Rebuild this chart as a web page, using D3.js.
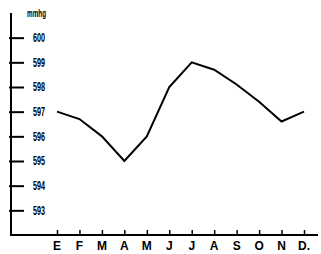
<!DOCTYPE html>
<html>
<head>
<meta charset="utf-8">
<script src="https://cdn.jsdelivr.net/npm/d3@7"></script>
<style>
  body { margin: 0; background: #fff; }
  svg { display: block; }
</style>
</head>
<body>
<svg id="chart" width="321" height="254"></svg>
<script>
const months = ["E", "F", "M", "A", "M", "J", "J", "A", "S", "O", "N", "D."];
const pressure = [597.0, 596.7, 596.0, 595.0, 596.0, 598.0, 599.0, 598.7, 598.1, 597.4, 596.6, 597.0];
const yTicks = [593, 594, 595, 596, 597, 598, 599, 600];

const svg = d3.select("#chart");
const axisX = 11;
const axisY = 235;

const x = d3.scaleLinear().domain([0, 11]).range([57, 304]);
const y = d3.scaleLinear().domain([592, 601]).range([axisY, 13]);

// vertical axis
svg.append("line")
  .attr("x1", axisX).attr("x2", axisX)
  .attr("y1", 13).attr("y2", axisY + 1)
  .attr("stroke", "#000").attr("stroke-width", 2);

const yAxis = d3.axisRight(y).tickValues(yTicks).tickSize(15).tickPadding(9).tickFormat(d3.format("d"));
const gy = svg.append("g")
  .attr("transform", `translate(${axisX - 2},0)`)
  .call(yAxis);
gy.select(".domain").remove();
gy.selectAll(".tick line").attr("stroke-width", 2);
gy.selectAll(".tick text")
  .attr("font-family", "'Liberation Sans', Arial, sans-serif")
  .attr("font-size", 12)
  .attr("font-weight", "bold")
  .attr("textLength", 12)
  .attr("lengthAdjust", "spacingAndGlyphs")
  .attr("fill", "#000");

svg.append("text")
  .attr("x", 27).attr("y", 17)
  .attr("font-family", "'Liberation Sans', Arial, sans-serif")
  .attr("font-size", 10)
  .attr("font-weight", "bold")
  .attr("textLength", 19)
  .attr("lengthAdjust", "spacingAndGlyphs")
  .text("mmhg");

// horizontal axis
svg.append("line")
  .attr("x1", axisX - 1).attr("x2", 318)
  .attr("y1", axisY).attr("y2", axisY)
  .attr("stroke", "#000").attr("stroke-width", 2);

const xAxis = d3.axisTop(x).tickValues(d3.range(months.length)).tickSize(5).tickFormat("");
const gx = svg.append("g")
  .attr("transform", `translate(0,${axisY})`)
  .call(xAxis);
gx.select(".domain").remove();
gx.selectAll(".tick line").attr("stroke-width", 1.5);

svg.append("g")
  .selectAll("text")
  .data(months)
  .join("text")
  .attr("x", (d, i) => x(i))
  .attr("y", 250)
  .attr("text-anchor", "middle")
  .attr("font-family", "'Liberation Sans', Arial, sans-serif")
  .attr("font-size", 12)
  .attr("font-weight", "bold")
  .text(d => d);

// pressure line
const line = d3.line()
  .x((d, i) => x(i))
  .y(d => y(d));

svg.append("path")
  .datum(pressure)
  .attr("d", line)
  .attr("fill", "none")
  .attr("stroke", "#000")
  .attr("stroke-width", 2);
</script>
</body>
</html>
